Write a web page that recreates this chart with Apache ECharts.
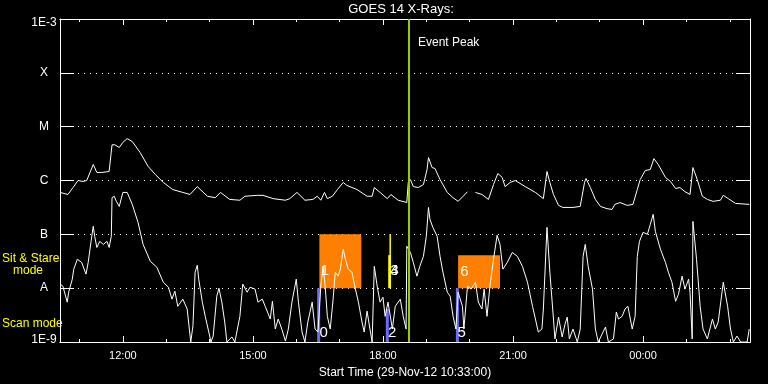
<!DOCTYPE html>
<html><head><meta charset="utf-8">
<script src="https://cdn.jsdelivr.net/npm/echarts@6/dist/echarts.min.js"></script>
<style>html,body{margin:0;background:#000}#c{width:768px;height:384px}</style>
</head><body><div id="c"></div>
<script>
const titleText = 'GOES 14 X-Rays:';
const startLabel = 'Start Time (29-Nov-12 10:33:00)';
const axisStart = '10:33';
const axisEnd = '02:28';
const xMajorTicks = ['12:00','15:00','18:00','21:00','00:00'];
const xMinorTicks = ['11:00','13:00','14:00','16:00','17:00','19:00','20:00','22:00','23:00','01:00','02:00'];
const yTickLabels = ['1E-9','A','B','C','M','X','1E-3'];

// Long channel (1-8 A)
const longTimes = [
 '10:33','10:44','10:51','10:58','11:05','11:10','11:19','11:24','11:31','11:41',
 '11:45','11:49','11:55','12:00','12:06','12:13','12:24','12:35','12:45','12:56',
 '13:09','13:23','13:33','13:43','13:57','14:08','14:15','14:28','14:42','14:49',
 '15:06','15:14','15:28','15:45','15:51','16:01','16:12','16:23','16:29','16:34',
 '16:39','16:43','16:50','16:57','17:05','17:10','17:24','17:38','17:45','17:48',
 '17:56','18:06','18:11','18:21','18:33','18:35','18:38','18:42','18:49','18:56',
 '19:01','19:03','19:08','19:12','19:19','19:29','19:37','19:44','19:51','19:57',
 '20:02','20:08','20:17','20:26','20:33','20:39','20:45','20:49','20:56','21:03',
 '21:17','21:31','21:42','21:47','21:51','21:56','22:03','22:09','22:23','22:33',
 '22:39','22:41','22:47','22:54','23:01','23:10','23:17','23:21','23:28','23:38',
 '23:46','23:52','23:56','00:03','00:10','00:15','00:21','00:31','00:38','00:45',
 '00:51','00:58','01:05','01:09','01:15','01:22','01:29','01:37','01:47','01:51',
 '01:58','02:08','02:27'];
const longFlux = [
 6.0e-7,5.5e-7,7.4e-7,1.0e-6,9.6e-7,1.0e-6,1.98e-6,1.41e-6,1.41e-6,1.47e-6,
 4.6e-6,4.6e-6,4.1e-6,5.1e-6,6.0e-6,5.3e-6,3.3e-6,1.82e-6,1.29e-6,9.2e-7,
 6.8e-7,6.0e-7,5.5e-7,7.7e-7,5.1e-7,4.8e-7,6.0e-7,4.45e-7,4.3e-7,5.1e-7,
 5.3e-7,5.3e-7,4.6e-7,4.3e-7,4.6e-7,6.0e-7,4.3e-7,4.45e-7,5.1e-7,4.3e-7,
 6.0e-7,4.6e-7,5.1e-7,6.8e-7,9.2e-7,8.1e-7,6.8e-7,5.1e-7,5.1e-7,7.4e-7,
 6.0e-7,4.6e-7,5.5e-7,4.3e-7,3.9e-7,9.2e-7,1.04e-6,7.7e-7,7.4e-7,8.4e-7,
 1.6e-6,2.67e-6,1.74e-6,1.67e-6,1.04e-6,6.0e-7,4.8e-7,4.1e-7,5.1e-7,6.2e-7,
 null,6.0e-7,5.5e-7,4.45e-7,8.4e-7,1.35e-6,1.14e-6,7.7e-7,9.2e-7,1.0e-6,
 7.7e-7,6.0e-7,4.6e-7,1.47e-6,9.2e-7,5.5e-7,3.45e-7,3.16e-7,3.16e-7,3.3e-7,
 9.2e-7,1.09e-6,7.4e-7,4.45e-7,3.3e-7,3.0e-7,2.9e-7,3.6e-7,3.9e-7,3.45e-7,
 3.6e-7,6.8e-7,1.04e-6,1.53e-6,1.6e-6,2.55e-6,1.98e-6,1.14e-6,9.6e-7,7.1e-7,
 7.4e-7,6.2e-7,5.5e-7,1.74e-6,1.04e-6,5.1e-7,4.45e-7,4.1e-7,4.3e-7,5.3e-7,
 4.6e-7,3.75e-7,3.6e-7];

// Short channel (0.5-4 A)
const shortTimes = [
 '10:33','10:37','10:43','10:45','10:50','10:52','10:57','10:59','11:03','11:09',
 '11:12','11:16','11:19','11:21','11:24','11:28','11:33','11:38','11:41','11:44',
 '11:45','11:48','11:51','11:55','12:00','12:06','12:13','12:21','12:28','12:38',
 '12:47','12:56','13:03','13:08','13:12','13:16','13:23','13:29','13:32','13:34',
 '13:37','13:40','13:43','13:45','13:50','13:54','13:58','14:02','14:05','14:10',
 '14:13','14:17','14:21','14:24','14:31','14:35','14:42','14:46','14:52','14:56',
 '15:03','15:07','15:13','15:17','15:24','15:27','15:31','15:35','15:40','15:45',
 '15:49','15:54','16:00','16:03','16:08','16:12','16:16','16:22','16:26','16:30',
 '16:34','16:37','16:40','16:43','16:47','16:51','16:54','16:58','17:01','17:05',
 '17:08','17:12','17:17','17:21','17:26','17:31','17:34','17:38','17:42','17:45',
 '17:48','17:52','17:56','18:00','18:03','18:07','18:13','18:17','18:24','18:28',
 '18:32','18:33','18:38','18:42','18:47','18:51','18:56','19:00','19:03','19:05',
 '19:09','19:15','19:19','19:23','19:29','19:33','19:37','19:41','19:44','19:50',
 '19:52','19:57','20:02','20:08','20:12','20:17','20:20','20:24','20:28','20:33',
 '20:38','20:42','20:46','20:52','20:59','21:06','21:13','21:20','21:27','21:31',
 '21:35','21:40','21:42','21:47','21:51','21:56','21:58','22:03','22:08','22:12',
 '22:15','22:18','22:23','22:29','22:33','22:37','22:40','22:44','22:50','22:54',
 '22:58','23:08','23:12','23:19','23:23','23:26','23:31','23:35','23:39','23:45',
 '23:49','23:52','23:55','00:00','00:06','00:10','00:14','00:17','00:24','00:31',
 '00:35','00:40','00:45','00:49','00:54','00:58','01:03','01:05','01:08','01:09',
 '01:14','01:19','01:23','01:29','01:36','01:40','01:44','01:51','01:57','02:01',
 '02:05','02:10','02:15','02:24','02:27'];
const shortFlux = [
 1.19e-8,1.09e-8,5.5e-9,8.4e-9,1.47e-8,2.25e-8,3.45e-8,3.75e-8,3.0e-8,1.82e-8,
 3.0e-8,7.4e-8,1.41e-7,9.2e-8,5.7e-8,7.4e-8,6.5e-8,7.4e-8,5.7e-8,9.2e-8,
 4.8e-7,5.1e-7,4.1e-7,3.3e-7,6.0e-7,6.0e-7,3.6e-7,1.67e-7,6.5e-8,3.16e-8,
 2.45e-8,1.29e-8,1.04e-8,6.25e-9,8.8e-9,4.6e-9,6.25e-9,4.1e-9,1.74e-9,1e-9,
 2.0e-9,1.98e-8,2.67e-8,1.47e-8,5.5e-9,3.0e-9,1.74e-9,1e-9,1.29e-9,7.1e-9,
 1e-8,5.5e-9,2.35e-9,1e-9,1.24e-9,1e-9,3.0e-9,1.19e-8,8.4e-9,1.04e-8,
 9.6e-9,5.5e-9,6.25e-9,4.6e-9,2.67e-9,5.7e-9,1.74e-9,2.67e-9,1.74e-9,1.04e-9,
 1.74e-9,5.5e-9,1.47e-8,5.5e-9,1.53e-9,1e-9,2.35e-9,5.5e-9,1.74e-9,1.53e-9,
 1.09e-8,2.55e-8,1.09e-8,3.0e-9,1.74e-9,6.25e-9,1.98e-8,1.67e-8,2.25e-8,5.3e-8,
 3.45e-8,2.25e-8,1.98e-8,1.09e-8,5.5e-9,2.35e-9,1.53e-9,3.75e-9,1.74e-9,1e-9,
 2.55e-8,1.09e-8,5.5e-9,6.8e-9,3.0e-9,5.5e-9,1.74e-9,4.6e-9,6.25e-9,3.0e-9,
 1.74e-9,6.0e-8,4.6e-8,3.0e-8,1.67e-8,2.55e-8,3.9e-8,9.2e-8,3.16e-7,1.9e-7,
 1.35e-7,9.2e-8,3.9e-8,1.98e-8,8.4e-9,7.1e-9,3.0e-9,1.74e-9,8.4e-9,4.6e-9,
 1.74e-9,1.09e-8,9.6e-9,1.29e-8,5.5e-9,4.1e-9,9.6e-9,3.0e-9,1.09e-8,3.45e-8,
 9.6e-8,6.5e-8,2.25e-8,3.0e-8,4.6e-8,3.9e-8,2.55e-8,1.29e-8,4.6e-9,2.67e-9,
 1.53e-9,1.74e-9,4.1e-9,1.35e-7,1.98e-8,2.67e-9,1.14e-9,2.9e-9,1.24e-9,2.15e-9,
 2.9e-9,1.14e-9,1.74e-9,1e-9,1.74e-9,3.9e-8,6.5e-8,2.55e-8,9.6e-9,1.74e-9,
 1e-9,1.9e-9,1e-9,1.14e-9,3.6e-9,2.67e-9,3.0e-9,4.1e-9,4.6e-9,1.74e-9,
 3.0e-9,3.9e-8,7.4e-8,1.09e-7,1.0e-7,1.53e-7,2.35e-7,1.14e-7,5.3e-8,3.0e-8,
 1.98e-8,1.29e-8,5.7e-9,7.7e-9,1.67e-8,9.6e-9,1.47e-8,8.4e-9,1.14e-9,1.74e-7,
 3.45e-8,4.6e-9,1.74e-9,1.14e-9,2.67e-9,1.74e-9,2.35e-9,1.29e-8,4.6e-9,1.74e-9,
 1e-9,1.29e-9,1e-9,1e-9,1.74e-9];

// Events
const peakTime = '18:36';
const boxStart = ['16:32','19:44'];
const boxEnd = ['17:30','20:42'];
const boxLow = [1e-8,1e-8];
const boxHigh = [1e-7,4.1e-8];
const scanTimes = ['16:31','18:06','19:43'];
const scanTop = [1e-8,4.1e-9,1e-8];
const scanBottom = [1e-9,1e-9,1e-9];
const stareTimes = ['18:10','18:09'];
const stareLow = [1e-8,1e-8];
const stareHigh = [1e-7,4.1e-8];
const eventIds = ['0','1','2','3','4','5','6'];
const eventLabelTimes = ['16:32','16:34','18:07','18:10','18:10','19:43','19:47'];
const eventLabelFlux = [1.5e-9,2.1e-8,1.5e-9,2.1e-8,2.1e-8,1.5e-9,2.0e-8];

function toMin(s){ const p=s.split(':'); let v=(+p[0])*60+(+p[1]); if(v<600) v+=1440; return v; }
function fmt(v){ const m=((Math.round(v)%1440)+1440)%1440; const h=Math.floor(m/60), mm=m%60; return (h<10?'0':'')+h+':'+(mm<10?'0':'')+mm; }

const xMin = toMin(axisStart), xMax = toMin(axisEnd);
const FONT = 'Liberation Sans';
const majorVals = xMajorTicks.map(toMin), minorVals = xMinorTicks.map(toMin);

function xAx(pos, vals, len, labels){
  return {
    type:'value', position:pos, min:xMin, max:xMax,
    axisLine:{show:true, lineStyle:{color:'#fff', width:1}},
    axisTick:{show:true, inside:true, length:len, customValues:vals, lineStyle:{color:'#fff', width:1}},
    axisLabel: labels ? {show:true, customValues:vals, formatter:fmt, color:'#fff', fontFamily:FONT, fontSize:11, margin:8} : {show:false},
    splitLine:{show:false},
    name: labels ? startLabel : '', nameLocation:'middle', nameGap:25,
    nameTextStyle:{color:'#fff', fontFamily:FONT, fontSize:12}
  };
}

const chart = echarts.init(document.getElementById('c'), null, {renderer:'canvas'});
chart.setOption({
  backgroundColor:'#000',
  animation:false,
  grid:{left:60, right:18, top:19, bottom:41, containLabel:false},
  xAxis:[ xAx('bottom', majorVals, 6, true), xAx('bottom', minorVals, 3, false),
          xAx('top', majorVals, 6, false), xAx('top', minorVals, 3, false) ],
  yAxis:[{
    type:'log', logBase:10, min:1e-9, max:1e-3, splitNumber:6, position:'left',
    axisLine:{show:true, lineStyle:{color:'#fff', width:1}},
    axisTick:{show:true, inside:true, length:14, lineStyle:{color:'#fff', width:1}},
    minorTick:{show:false},
    axisLabel:{color:'#fff', fontFamily:FONT, fontSize:12, align:'center', margin:16,
      formatter:function(v){ const e=Math.round(Math.log10(v)); const t=yTickLabels[e+9]||'';
        if(e===-3) return '{top|'+t+'}'; if(e===-9) return '{bot|'+t+'}'; return t; },
      rich:{top:{padding:[8,0,0,0], color:'#fff', fontFamily:FONT, fontSize:12},
            bot:{padding:[0,0,5,0], color:'#fff', fontFamily:FONT, fontSize:12}}},
    splitLine:{show:true, lineStyle:{color:'#fff', width:1, type:[1,5]}}
  },{
    type:'log', logBase:10, min:1e-9, max:1e-3, splitNumber:6, position:'right',
    axisLine:{show:true, lineStyle:{color:'#fff', width:1}},
    axisTick:{show:true, inside:true, length:14, lineStyle:{color:'#fff', width:1}},
    axisLabel:{show:false}, splitLine:{show:false}
  }],
  graphic:[
    {type:'text', x:401, y:9, style:{text:titleText, fill:'#fff', font:'13px "'+FONT+'"', align:'center', verticalAlign:'middle', textAlign:'center', textVerticalAlign:'middle'}},
    {type:'text', x:418, y:43, style:{text:'Event Peak', fill:'#fff', font:'12px "'+FONT+'"', align:'left', verticalAlign:'middle', textAlign:'left', textVerticalAlign:'middle'}},
    {type:'text', x:2, y:259, style:{text:'Sit & Stare', fill:'#ffff00', font:'12px "'+FONT+'"', align:'left', verticalAlign:'middle', textAlign:'left', textVerticalAlign:'middle'}},
    {type:'text', x:13, y:271, style:{text:'mode', fill:'#ffff00', font:'12px "'+FONT+'"', align:'left', verticalAlign:'middle', textAlign:'left', textVerticalAlign:'middle'}},
    {type:'text', x:2, y:324, style:{text:'Scan mode', fill:'#ffff00', font:'12px "'+FONT+'"', align:'left', verticalAlign:'middle', textAlign:'left', textVerticalAlign:'middle'}}
  ],
  series:[
    {type:'custom', name:'boxes', xAxisIndex:0, yAxisIndex:0, z:1,
     data: boxStart.map((t,i)=>[toMin(t), toMin(boxEnd[i]), boxLow[i], boxHigh[i]]),
     encode:{x:[0,1], y:[2,3]},
     renderItem:function(params, api){
       const a=api.coord([api.value(0), api.value(3)]), b=api.coord([api.value(1), api.value(2)]);
       return {type:'rect', shape:{x:a[0], y:a[1], width:b[0]-a[0], height:b[1]-a[1]}, style:{fill:'#ff8000'}};
     }},
    {type:'custom', name:'scan', xAxisIndex:0, yAxisIndex:0, z:1,
     data: scanTimes.map((t,i)=>[toMin(t), scanBottom[i], scanTop[i]]),
     encode:{x:0, y:[1,2]},
     renderItem:function(params, api){
       const a=api.coord([api.value(0), api.value(2)]), b=api.coord([api.value(0), api.value(1)]);
       return {type:'rect', shape:{x:a[0]-1.5, y:a[1], width:3, height:b[1]-a[1]}, style:{fill:'#6a6aff'}};
     }},
    {type:'custom', name:'stare', xAxisIndex:0, yAxisIndex:0, z:1,
     data: stareTimes.map((t,i)=>[toMin(t), stareLow[i], stareHigh[i]]),
     encode:{x:0, y:[1,2]},
     renderItem:function(params, api){
       const a=api.coord([api.value(0), api.value(2)]), b=api.coord([api.value(0), api.value(1)]);
       const w = params.dataIndex===0 ? 1.5 : 2.5;
       return {type:'rect', shape:{x:a[0]-w/2, y:a[1], width:w, height:b[1]-a[1]}, style:{fill:'#ffff00'}};
     }},
    {type:'line', name:'long', xAxisIndex:0, yAxisIndex:0, z:2, showSymbol:false, symbol:'none',
     connectNulls:false, lineStyle:{color:'#fff', width:1}, clip:true,
     data: longTimes.map((t,i)=>[toMin(t), longFlux[i]===null ? '-' : longFlux[i]]),
     markLine:{silent:true, symbol:'none', label:{show:false},
       lineStyle:{color:'#99cc00', width:2, type:'solid'}, data:[{xAxis:toMin(peakTime)}]}},
    {type:'line', name:'short', xAxisIndex:0, yAxisIndex:0, z:2, showSymbol:false, symbol:'none',
     lineStyle:{color:'#fff', width:1}, clip:true,
     data: shortTimes.map((t,i)=>[toMin(t), shortFlux[i]])},
    {type:'custom', name:'labels', xAxisIndex:0, yAxisIndex:0, z:5,
     data: eventIds.map((id,i)=>[toMin(eventLabelTimes[i]), eventLabelFlux[i], id]),
     encode:{x:0, y:1},
     renderItem:function(params, api){
       const p=api.coord([api.value(0), api.value(1)]);
       return {type:'text', style:{text:eventIds[params.dataIndex], x:p[0], y:p[1], fill:'#fff',
         font:'15px "'+FONT+'"', align:'left', verticalAlign:'middle'}};
     }}
  ]
});
</script></body></html>
